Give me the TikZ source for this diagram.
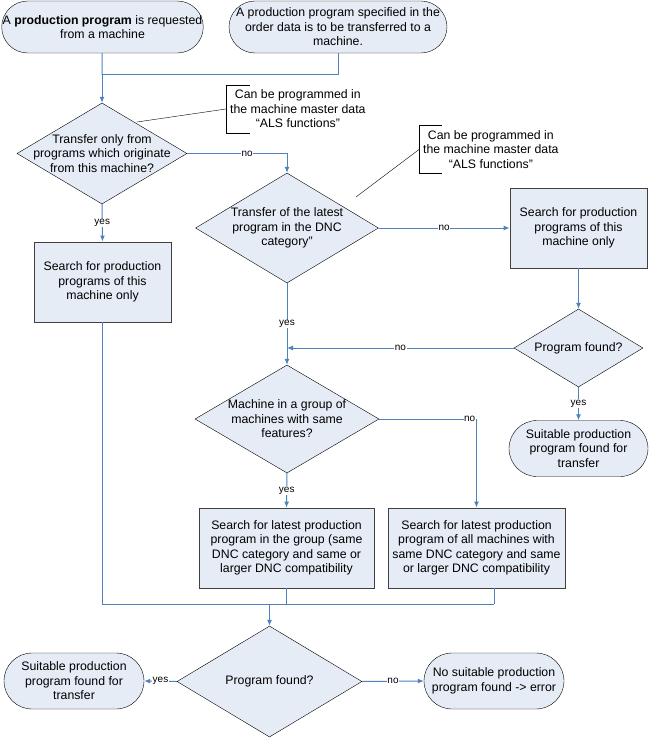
\documentclass[tikz,border=0pt]{standalone}
\usepackage{fontspec}
\setmainfont{Liberation Sans}
\usetikzlibrary{arrows.meta,shapes.geometric}

\definecolor{boxfill}{RGB}{230,236,246}
\definecolor{linkblue}{RGB}{79,129,189}

\begin{document}
\begin{tikzpicture}[x=1pt,y=-1pt,
    font=\fontsize{12.3}{14.5}\selectfont,
    term/.style={draw, fill=boxfill, rounded corners=#1, align=center, inner sep=1pt},
    term/.default=26pt,
    proc/.style={draw=black!75, line width=0.9pt, fill=boxfill, align=center, minimum height=80pt},
    dec/.style={diamond, draw, fill=boxfill, inner sep=0pt},
    dtext/.style={align=center, inner sep=0pt},
    note/.style={align=center, minimum height=48pt, inner xsep=4pt, anchor=west},
    link/.style={draw=linkblue, line width=1pt},
    flow/.style={link, -{Latex[length=6pt,width=5pt]}},
    lab/.style={fill=white, inner sep=0.6pt, text=black, font=\fontsize{10}{12}\selectfont}]
  \useasboundingbox (0,0) rectangle (650,738);
  % Start events
  \node[term, minimum width=201pt, minimum height=52pt] (start1) at (102.5,27)
    {A \textbf{production program} is requested\\from a machine};
  \node[term, minimum width=218pt, minimum height=52pt] (start2) at (338,27)
    {A production program specified in the\\order data is to be transferred to a\\machine.};
  % Decisions
  \node[dec, minimum width=170pt, minimum height=101pt,
    label={[dtext]center:Transfer only from\\programs which originate\\from this machine?}] (dec1) at (102,153.5) {};
  \node[dec, minimum width=183pt, minimum height=110pt,
    label={[dtext]center:Transfer of the latest\\program in the DNC\\category”}] (dec2) at (287,228) {};
  \node[dec, minimum width=129pt, minimum height=78pt,
    label={[dtext]center:Program found?}] (dec3) at (578.5,348) {};
  \node[dec, minimum width=184pt, minimum height=108pt,
    label={[dtext]center:Machine in a group of\\machines with same\\features?}] (dec4) at (287,419) {};
  \node[dec, minimum width=185pt, minimum height=111pt,
    label={[dtext]center:Program found?}] (dec5) at (269.5,681.5) {};
  % Search steps
  \node[proc, minimum width=137pt] (box1) at (102.5,282)
    {Search for production\\programs of this\\machine only};
  \node[proc, minimum width=137pt] (box3) at (578.5,228)
    {Search for production\\programs of this\\machine only};
  \node[proc, minimum width=175pt] (box4) at (286.5,548)
    {Search for latest production\\program in the group (same\\DNC category and same or\\larger DNC compatibility};
  \node[proc, minimum width=177pt] (box5) at (476.5,548)
    {Search for latest production\\program of all machines with\\same DNC category and same\\or larger DNC compatibility};
  % Results
  \node[term=28pt, minimum width=139pt, minimum height=56pt] (found1) at (578.5,448.5)
    {Suitable production\\program found for\\transfer};
  \node[term=28pt, minimum width=140pt, minimum height=56pt] (found2) at (74,681)
    {Suitable production\\program found for\\transfer};
  \node[term=28pt, minimum width=140pt, minimum height=56pt] (error) at (494,681)
    {No suitable production\\program found -> error};
  % Notes
  \node[note] (note1) at (226,109) {Can be programmed in\\the machine master data\\“ALS functions”};
  \node[note] (note2) at (419,149.5) {Can be programmed in\\the machine master data\\“ALS functions”};
  \coordinate (tip1) at (137,122);
  \coordinate (tip2) at (356,197);
  \draw (note1.north west) ++(24,0) -- (note1.north west) -- (note1.south west) -- ++(24,0);
  \draw (note2.north west) ++(23,0) -- (note2.north west) -- (note2.south west) -- ++(23,0);
  \draw (note1.west) -- (tip1);
  \draw (note2.west) -- (tip2);
  % Connectors
  \coordinate (join1) at (102,75);
  \coordinate (join2) at (494,604);
  \draw[link] (start1) -- (join1);
  \draw[link] (start2.south) |- (join1);
  \draw[flow] (join1) -- (dec1);
  \draw[flow] (dec1.east) -| node[lab, pos=0.3] {no} (dec2.north);
  \draw[flow] (dec1.south) -- node[lab] {yes} (box1.north);
  \draw[flow] (dec2.east) -- node[lab] {no} (box3.west);
  \draw[flow] (box3.south) -- (dec3.north);
  \draw[flow] (dec3.west) -- node[lab] {no} (dec3.west -| dec2.south);
  \draw[flow] (dec2.south) -- node[lab] {yes} (dec4.north);
  \draw[flow] (dec3.south) -- node[lab] {yes} (found1.north);
  \draw[flow] (dec4.east) -| node[lab, pos=0.465] {no} (box5.north);
  \draw[flow] (dec4.south) -- node[lab] {yes} (box4.north);
  % Merge into final check
  \draw[link] (box1.south) |- (join2);
  \draw[link] (box4.south) -- (box4.south |- join2);
  \draw[link] (box5.south -| join2) -- (join2);
  \draw[flow] (dec5.north |- join2) -- (dec5.north);
  \draw[flow] (dec5.west) -- node[lab] {yes} (found2.east);
  \draw[flow] (dec5.east) -- node[lab] {no} (error.west);
\end{tikzpicture}
\end{document}
